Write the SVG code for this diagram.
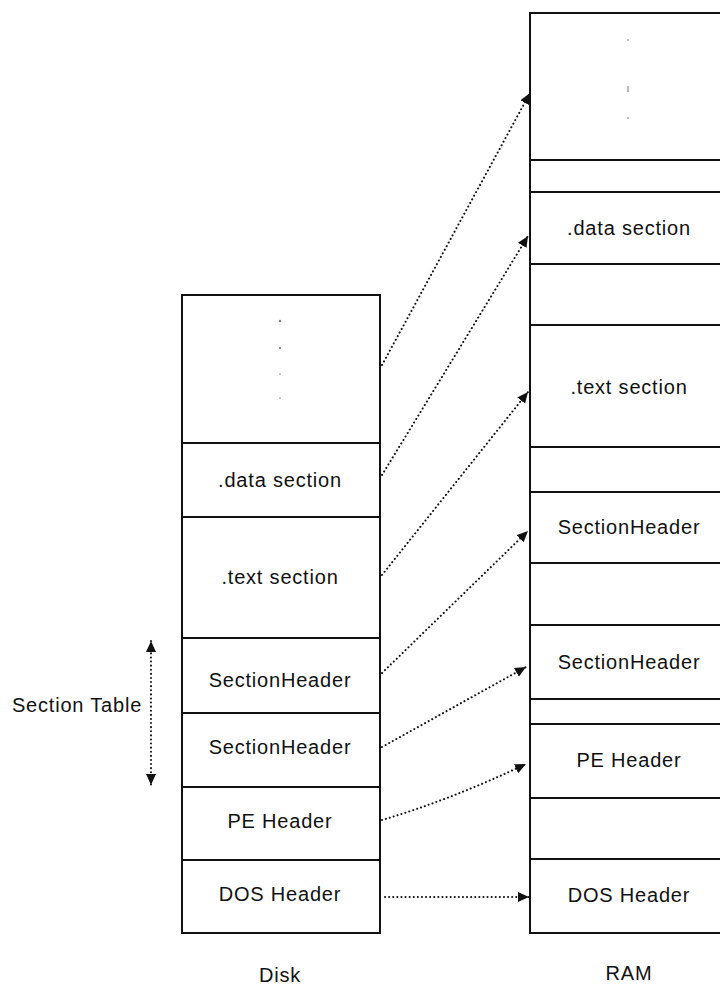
<svg xmlns="http://www.w3.org/2000/svg" width="720" height="988" viewBox="0 0 720 988">
  <style>
    .box { fill: #fff; stroke: #111; stroke-width: 2; }
    .div { stroke: #111; stroke-width: 2; }
    .lbl { font-family: "Liberation Sans", Arial, sans-serif; font-size: 20px; letter-spacing: 0.8px; fill: #111; text-anchor: middle; }
    .link { fill: none; stroke: #111; stroke-width: 2; stroke-dasharray: 0.1 4; stroke-linecap: round; }
    .speck { fill: #777; }
  </style>
  <defs>
    <marker id="head" markerUnits="userSpaceOnUse" markerWidth="12" markerHeight="11" refX="11" refY="5" orient="auto-start-reverse">
      <path d="M0,0 L11,5 L0,10 z" fill="#111"/>
    </marker>
  </defs>
  <rect width="720" height="988" fill="#fff"/>

  <!-- Disk image column -->
  <g id="disk">
    <rect class="box" x="182" y="295" width="198" height="638"/>
    <g id="disk-rest">
      <circle class="speck" cx="280" cy="321" r="1.2"/>
      <circle class="speck" cx="280" cy="348" r="1"/>
      <circle class="speck" cx="280" cy="374" r="0.8"/>
      <circle class="speck" cx="280" cy="398" r="0.8"/>
    </g>
    <line class="div" x1="182" y1="443" x2="380" y2="443"/>
    <g id="disk-data"><text class="lbl" x="280" y="487">.data section</text></g>
    <line class="div" x1="182" y1="517" x2="380" y2="517"/>
    <g id="disk-text"><text class="lbl" x="280" y="584">.text section</text></g>
    <line class="div" x1="182" y1="638" x2="380" y2="638"/>
    <g id="disk-sh1"><text class="lbl" x="280" y="687">SectionHeader</text></g>
    <line class="div" x1="182" y1="713" x2="380" y2="713"/>
    <g id="disk-sh2"><text class="lbl" x="280" y="754">SectionHeader</text></g>
    <line class="div" x1="182" y1="787" x2="380" y2="787"/>
    <g id="disk-pe"><text class="lbl" x="280" y="828">PE Header</text></g>
    <line class="div" x1="182" y1="860" x2="380" y2="860"/>
    <g id="disk-dos"><text class="lbl" x="280" y="901">DOS Header</text></g>
    <text class="lbl" x="280" y="982">Disk</text>
  </g>

  <!-- RAM image column (runs past the right edge) -->
  <g id="ram">
    <rect class="box" x="530" y="13" width="200" height="920"/>
    <g id="ram-rest">
      <circle class="speck" cx="628" cy="40" r="0.8"/>
      <rect class="speck" x="627.5" y="86" width="1" height="6"/>
      <circle class="speck" cx="628" cy="118" r="0.8"/>
    </g>
    <line class="div" x1="530" y1="160" x2="720" y2="160"/>
    <line class="div" x1="530" y1="192" x2="720" y2="192"/>
    <g id="ram-data"><text class="lbl" x="629" y="235">.data section</text></g>
    <line class="div" x1="530" y1="264" x2="720" y2="264"/>
    <line class="div" x1="530" y1="325" x2="720" y2="325"/>
    <g id="ram-text"><text class="lbl" x="629" y="394">.text section</text></g>
    <line class="div" x1="530" y1="447" x2="720" y2="447"/>
    <line class="div" x1="530" y1="492" x2="720" y2="492"/>
    <g id="ram-sh1"><text class="lbl" x="629" y="534">SectionHeader</text></g>
    <line class="div" x1="530" y1="563" x2="720" y2="563"/>
    <line class="div" x1="530" y1="625" x2="720" y2="625"/>
    <g id="ram-sh2"><text class="lbl" x="629" y="669">SectionHeader</text></g>
    <line class="div" x1="530" y1="699" x2="720" y2="699"/>
    <line class="div" x1="530" y1="724" x2="720" y2="724"/>
    <g id="ram-pe"><text class="lbl" x="629" y="767">PE Header</text></g>
    <line class="div" x1="530" y1="798" x2="720" y2="798"/>
    <line class="div" x1="530" y1="859" x2="720" y2="859"/>
    <g id="ram-dos"><text class="lbl" x="629" y="902">DOS Header</text></g>
    <text class="lbl" x="629" y="980">RAM</text>
  </g>

  <!-- Section table span -->
  <g id="section-table">
    <text class="lbl" x="77" y="712">Section Table</text>
    <line class="link" x1="151" y1="641" x2="151" y2="785" marker-start="url(#head)" marker-end="url(#head)"/>
  </g>

  <!-- Disk to RAM mappings -->
  <g id="connectors">
    <line class="link" x1="382" y1="365" x2="530" y2="93" marker-end="url(#head)"/>
    <line class="link" x1="382" y1="475" x2="528" y2="236" marker-end="url(#head)"/>
    <line class="link" x1="382" y1="575" x2="528" y2="392" marker-end="url(#head)"/>
    <line class="link" x1="382" y1="673" x2="528" y2="531" marker-end="url(#head)"/>
    <line class="link" x1="382" y1="747" x2="526" y2="667" marker-end="url(#head)"/>
    <path class="link" d="M382,820 Q450,800 526,764" marker-end="url(#head)"/>
    <line class="link" x1="385" y1="897" x2="529" y2="897" marker-end="url(#head)"/>
  </g>
</svg>
